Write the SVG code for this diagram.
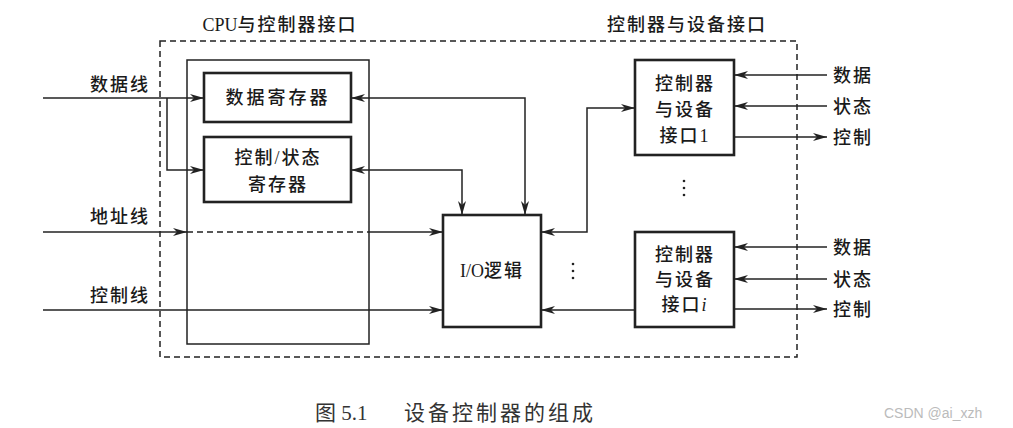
<svg xmlns="http://www.w3.org/2000/svg" width="1013" height="428" viewBox="0 0 1013 428">
<defs>
<marker id="ah" markerUnits="userSpaceOnUse" markerWidth="14" markerHeight="8" viewBox="0 0 14 8" refX="14" refY="4" orient="auto-start-reverse">
<path d="M0,0 L14,4 L0,8 L4,4 Z" fill="#222"/>
</marker>
</defs>
<style>
text{font-family:"Liberation Serif","Noto Sans CJK SC",serif;font-size:18px;fill:#1a1a1a;letter-spacing:2px;font-weight:500}
.c{text-anchor:middle}
.r{text-anchor:end}
.box{fill:#fff;stroke:#222;stroke-width:2.6}
.thin{fill:none;stroke:#222;stroke-width:1.5}
.dash{fill:none;stroke:#222;stroke-width:1.5;stroke-dasharray:6,4}
.ln{fill:none;stroke:#222;stroke-width:1.5}
.ar{marker-end:url(#ah)}
.ar2{marker-start:url(#ah);marker-end:url(#ah)}
.lat{letter-spacing:0}
</style>
<rect width="1013" height="428" fill="#fff"/>
<g id="frames">
<rect class="dash" x="160" y="41" width="637" height="316"/>
<rect class="thin" x="187" y="60" width="182" height="284"/>
<text class="c" x="280" y="31"><tspan class="lat">CPU</tspan>与控制器接口</text>
<text class="c" x="687" y="31">控制器与设备接口</text>
</g>
<g id="labels">
<text class="r" x="150" y="91">数据线</text>
<text class="r" x="150" y="223">地址线</text>
<text class="r" x="150" y="302">控制线</text>
</g>
<g id="data-reg">
<rect class="box" x="204" y="73" width="147" height="49"/>
<text class="c" x="278" y="104" style="letter-spacing:3px">数据寄存器</text>
</g>
<g id="ctrl-reg">
<rect class="box" x="204" y="137" width="147" height="65"/>
<text class="c" x="278" y="164">控制/状态</text>
<text class="c" x="278" y="191">寄存器</text>
</g>
<g id="io-logic">
<rect class="box" x="443" y="215" width="98" height="112"/>
<text class="c" x="492" y="277"><tspan class="lat">I/O</tspan>逻辑</text>
</g>
<g id="dev1">
<rect class="box" x="635" y="60" width="99" height="95"/>
<text class="c" x="685" y="90">控制器</text>
<text class="c" x="685" y="116">与设备</text>
<text class="c" x="685" y="142">接口1</text>
</g>
<g id="devi">
<rect class="box" x="635" y="232" width="99" height="95"/>
<text class="c" x="685" y="261">控制器</text>
<text class="c" x="685" y="286">与设备</text>
<text class="c" x="685" y="311">接口<tspan font-style="italic">i</tspan></text>
</g>
<g id="dev-labels">
<text x="833" y="82">数据</text>
<text x="833" y="113">状态</text>
<text x="833" y="144">控制</text>
<text x="833" y="254">数据</text>
<text x="833" y="286">状态</text>
<text x="833" y="316">控制</text>
</g>
<g id="dots" fill="#222">
<circle cx="684" cy="181" r="1.3"/><circle cx="684" cy="188" r="1.3"/><circle cx="684" cy="195" r="1.3"/>
<circle cx="573" cy="264" r="1.3"/><circle cx="573" cy="271" r="1.3"/><circle cx="573" cy="278" r="1.3"/>
</g>
<g id="connectors">
<path class="ln ar" d="M43,98 H204"/>
<path class="ln ar" d="M167,98 V170 H204"/>
<path class="ln ar" d="M43,232 H187"/>
<path class="dash" d="M187,232 H369"/>
<path class="ln ar" d="M369,232 H443"/>
<path class="ln ar" d="M43,310 H443"/>
<path class="ln ar2" d="M351,98 H525 V215"/>
<path class="ln ar2" d="M351,170 H462 V215"/>
<path class="ln ar2" d="M541,232 H587 V108 H635"/>
<path class="ln ar" d="M635,310 H541"/>
<path class="ln ar" d="M827,75 H734"/>
<path class="ln ar" d="M827,106 H734"/>
<path class="ln ar" d="M734,137 H827"/>
<path class="ln ar" d="M827,247 H734"/>
<path class="ln ar" d="M827,279 H734"/>
<path class="ln ar" d="M734,309 H827"/>
</g>
<g id="caption">
<text y="420" style="font-size:21px;fill:#333;font-weight:400"><tspan x="315" style="letter-spacing:0">图 5.1</tspan><tspan x="404" style="letter-spacing:3px">设备控制器的组成</tspan></text>
<text x="884" y="418" style="font-family:'Liberation Sans',sans-serif;font-size:14px;fill:#bbb;letter-spacing:0;font-weight:400">CSDN @ai_xzh</text>
</g>
</svg>
